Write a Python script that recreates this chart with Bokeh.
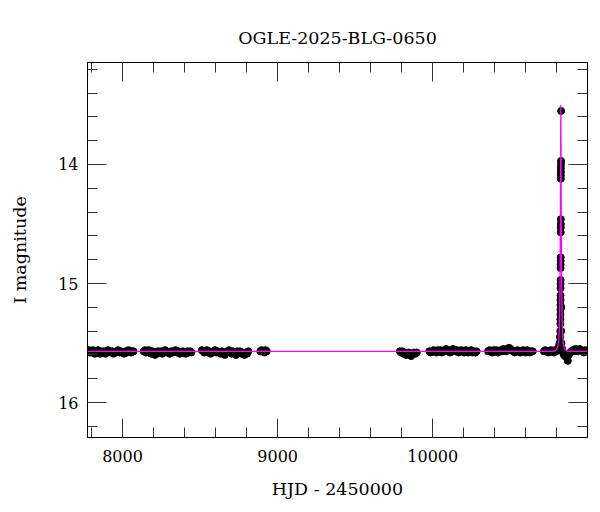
from bokeh.plotting import figure
from bokeh.models import Range1d, LinearAxis, SingleIntervalTicker, CustomJSTickFormatter
from bokeh.embed import file_html
from bokeh.resources import INLINE

TITLE = "OGLE-2025-BLG-0650"
X_LABEL = "HJD - 2450000"
Y_LABEL = "I magnitude"

s1_t = [7776, 7783, 7789, 7795, 7802, 7808, 7815, 7821, 7828, 7834, 7841, 7848, 7856, 7863, 7871, 7880, 7889, 7897, 7906, 7915, 7924, 7934, 7943, 7952, 7962, 7971, 7981, 7990, 8000, 8010, 8019, 8029, 8038, 8047, 8056, 8064, 8071]
s1_m = [15.57, 15.56, 15.58, 15.57, 15.58, 15.56, 15.57, 15.59, 15.58, 15.57, 15.56, 15.58, 15.59, 15.57, 15.58, 15.57, 15.59, 15.58, 15.56, 15.57, 15.58, 15.57, 15.59, 15.58, 15.57, 15.56, 15.58, 15.57, 15.58, 15.59, 15.57, 15.58, 15.56, 15.57, 15.58, 15.57, 15.57]

s2_t = [8136, 8144, 8152, 8160, 8168, 8176, 8184, 8193, 8201, 8210, 8219, 8228, 8237, 8246, 8256, 8265, 8275, 8284, 8294, 8303, 8313, 8322, 8332, 8341, 8351, 8360, 8370, 8379, 8389, 8398, 8408, 8417, 8427, 8436, 8444]
s2_m = [15.57, 15.56, 15.58, 15.57, 15.56, 15.58, 15.59, 15.57, 15.58, 15.60, 15.59, 15.57, 15.58, 15.57, 15.59, 15.58, 15.56, 15.57, 15.58, 15.59, 15.57, 15.58, 15.57, 15.56, 15.58, 15.57, 15.59, 15.58, 15.57, 15.58, 15.59, 15.57, 15.58, 15.57, 15.58]

s3_t = [8511, 8519, 8527, 8535, 8543, 8552, 8560, 8569, 8578, 8587, 8596, 8605, 8614, 8623, 8632, 8641, 8650, 8659, 8668, 8677, 8686, 8695, 8704, 8713, 8722, 8731, 8740, 8749, 8758, 8767, 8776, 8785, 8794, 8803, 8811]
s3_m = [15.56, 15.57, 15.58, 15.57, 15.56, 15.58, 15.57, 15.59, 15.58, 15.57, 15.56, 15.58, 15.57, 15.58, 15.59, 15.57, 15.58, 15.60, 15.58, 15.57, 15.56, 15.58, 15.59, 15.57, 15.58, 15.60, 15.57, 15.58, 15.57, 15.59, 15.58, 15.60, 15.58, 15.59, 15.57]

s4_t = [8888, 8896, 8905, 8914, 8922, 8930]
s4_m = [15.57, 15.56, 15.57, 15.58, 15.56, 15.57]

s5_t = [9788, 9796, 9804, 9812, 9820, 9828, 9836, 9845, 9853, 9861, 9870, 9879, 9888, 9897]
s5_m = [15.57, 15.58, 15.57, 15.59, 15.58, 15.60, 15.59, 15.58, 15.60, 15.61, 15.59, 15.58, 15.59, 15.58]

s6_t = [9978, 9987, 9996, 10005, 10014, 10023, 10032, 10041, 10050, 10059, 10068, 10077, 10086, 10095, 10104, 10113, 10122, 10131, 10140, 10149, 10158, 10167, 10176, 10185, 10194, 10203, 10212, 10221, 10230, 10239, 10248, 10257, 10266, 10275, 10283]
s6_m = [15.57, 15.58, 15.57, 15.56, 15.57, 15.58, 15.56, 15.57, 15.56, 15.58, 15.57, 15.56, 15.55, 15.57, 15.56, 15.58, 15.57, 15.55, 15.56, 15.57, 15.56, 15.58, 15.57, 15.56, 15.57, 15.58, 15.56, 15.57, 15.58, 15.57, 15.56, 15.58, 15.57, 15.58, 15.57]

s7_t = [10357, 10366, 10375, 10384, 10393, 10402, 10411, 10420, 10429, 10438, 10447, 10456, 10465, 10474, 10483, 10492, 10501, 10510, 10519, 10528, 10537, 10546, 10555, 10564, 10573, 10582, 10591, 10600, 10609, 10618, 10627, 10636, 10645]
s7_m = [15.57, 15.56, 15.57, 15.58, 15.56, 15.57, 15.56, 15.58, 15.57, 15.56, 15.57, 15.55, 15.56, 15.57, 15.55, 15.54, 15.55, 15.56, 15.57, 15.58, 15.57, 15.56, 15.57, 15.58, 15.57, 15.56, 15.57, 15.58, 15.56, 15.57, 15.58, 15.57, 15.57]

s8a_t = [10717, 10726, 10735, 10744, 10753, 10762, 10771, 10780, 10788, 10796, 10803, 10808, 10813, 10817, 10820]
s8a_m = [15.57, 15.56, 15.57, 15.58, 15.57, 15.56, 15.57, 15.58, 15.56, 15.57, 15.56, 15.55, 15.53, 15.50, 15.45]

ev_t = [10822.0, 10822.5, 10823.0, 10823.2, 10823.4, 10823.6, 10823.8, 10824.0, 10824.2, 10824.4, 10824.5, 10824.6, 10824.7, 10825.0, 10825.1, 10825.2, 10825.3, 10825.8, 10825.9, 10826.0, 10826.1, 10826.2, 10826.3, 10826.4, 10827.0, 10827.5, 10828.0, 10828.5, 10829.0, 10830.0]
ev_m = [15.45, 15.40, 15.34, 15.30, 15.26, 15.22, 15.18, 15.14, 15.10, 15.04, 15.00, 14.97, 14.87, 14.84, 14.81, 14.78, 14.57, 14.53, 14.50, 14.46, 14.12, 14.09, 14.06, 14.03, 14.00, 13.97, 13.55, 15.20, 15.40, 15.50]

s8b_t = [10835, 10840, 10846, 10852, 10858, 10864, 10871, 10878, 10886, 10894, 10903, 10912, 10921, 10930, 10939, 10948, 10957, 10966, 10975, 10984, 10993]
s8b_m = [15.55, 15.58, 15.60, 15.61, 15.59, 15.62, 15.65, 15.60, 15.58, 15.57, 15.56, 15.57, 15.55, 15.56, 15.57, 15.55, 15.56, 15.57, 15.58, 15.56, 15.57]

model_t = [7770, 10766, 10786, 10802, 10810, 10814, 10816, 10818, 10820, 10821, 10822, 10823, 10824, 10825, 10826, 10827, 10828, 10829, 10830, 10831, 10832, 10834, 10836, 10838, 10842, 10850, 10866, 10886, 11000]
model_m = [15.57, 15.57, 15.567, 15.55, 15.51, 15.44, 15.37, 15.26, 15.08, 14.94, 14.76, 14.52, 14.20, 13.78, 13.50, 13.78, 14.20, 14.52, 14.76, 14.94, 15.08, 15.26, 15.37, 15.44, 15.51, 15.55, 15.567, 15.57, 15.57]

all_t = s1_t + s2_t + s3_t + s4_t + s5_t + s6_t + s7_t + s8a_t + ev_t + s8b_t
all_m = s1_m + s2_m + s3_m + s4_m + s5_m + s6_m + s7_m + s8a_m + ev_m + s8b_m

FONT = "DejaVu Serif"

p = figure(frame_width=500, frame_height=375, output_backend="svg", toolbar_location=None,
           x_range=Range1d(7774, 10998), y_range=Range1d(16.294, 13.143),
           x_axis_location=None, y_axis_location=None,
           min_border_left=87, min_border_right=5, min_border_top=62, min_border_bottom=60)

p.title.text = TITLE
p.title.align = "center"
p.title.text_font = FONT
p.title.text_font_size = "17.5px"
p.title.text_font_style = "normal"
p.title.text_color = "black"
p.title.standoff = 30

p.xgrid.visible = False
p.ygrid.visible = False
p.outline_line_color = "black"
p.outline_line_width = 1
p.background_fill_color = "white"
p.border_fill_color = "white"

def style(ax, show_labels):
    ax.major_tick_in = 19
    ax.major_tick_out = 0
    ax.minor_tick_in = 10
    ax.minor_tick_out = 0
    ax.major_tick_line_color = "#333333"
    ax.minor_tick_line_color = "#333333"
    ax.axis_line_color = "black"
    ax.major_label_text_font = FONT
    ax.axis_label_text_font = FONT
    ax.axis_label_text_font_style = "normal"
    ax.axis_label_text_font_size = "17.5px"
    ax.axis_label_text_color = "black"
    ax.major_label_text_color = "black"
    ax.major_label_text_font_size = "16px"
    if not show_labels:
        ax.formatter = CustomJSTickFormatter(code="return ''")
        ax.major_label_standoff = 0

bx = LinearAxis(ticker=SingleIntervalTicker(interval=1000, num_minor_ticks=5), axis_label=X_LABEL)
style(bx, True)
bx.major_label_standoff = 12
bx.axis_label_standoff = 14
p.add_layout(bx, "below")

tx = LinearAxis(ticker=SingleIntervalTicker(interval=1000, num_minor_ticks=5))
style(tx, False)
p.add_layout(tx, "above")

ly = LinearAxis(ticker=SingleIntervalTicker(interval=1, num_minor_ticks=5), axis_label=Y_LABEL)
style(ly, True)
ly.major_label_standoff = 9
ly.axis_label_standoff = 25
p.add_layout(ly, "left")

ry = LinearAxis(ticker=SingleIntervalTicker(interval=1, num_minor_ticks=5))
style(ry, False)
p.add_layout(ry, "right")

p.scatter(all_t, all_m, size=7, color="black")
p.line(model_t, model_m, line_color="#ff00ff", line_width=1.3)

open("out.html", "w").write(file_html(p, INLINE))
